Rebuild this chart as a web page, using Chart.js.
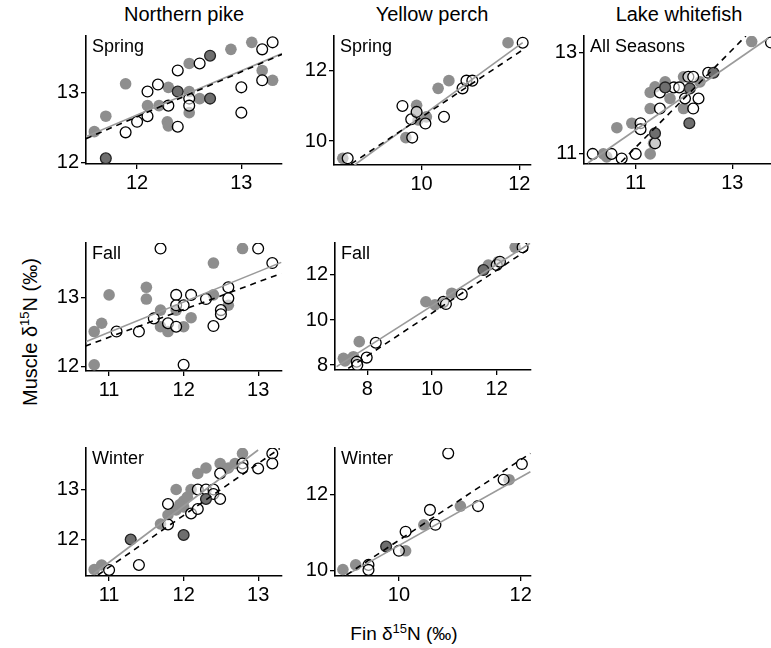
<!DOCTYPE html>
<html><head><meta charset="utf-8">
<script src="https://cdn.jsdelivr.net/npm/chart.js@4/dist/chart.umd.min.js"></script>
<style>
html,body{margin:0;padding:0;background:#fff;overflow:hidden;width:771px;height:648px;position:relative;}
canvas{position:absolute;}
.t{position:absolute;font-family:"Liberation Sans",Arial,sans-serif;color:#000;white-space:nowrap;}
</style></head><body>
<div class="t" style="left:184px;top:14px;transform:translate(-50%,-50%);font-size:20px;">Northern pike</div>
<div class="t" style="left:432px;top:14px;transform:translate(-50%,-50%);font-size:20px;">Yellow perch</div>
<div class="t" style="left:679px;top:14px;transform:translate(-50%,-50%);font-size:20px;">Lake whitefish</div>
<div class="t" style="left:30px;top:332px;transform:translate(-50%,-50%) rotate(-90deg);font-size:20px;">Muscle δ<sup style="font-size:13px;vertical-align:8px;line-height:0">15</sup>N (‰)</div>
<div class="t" style="left:404px;top:634px;transform:translate(-50%,-50%);font-size:19px;">Fin δ<sup style="font-size:13px;vertical-align:7px;line-height:0">15</sup>N (‰)</div>
<script>
// ---------- data ----------
// Northern pike, Spring
const npSpringGray = [[11.59,12.44],[11.70,12.66],[11.89,13.12],[12.10,12.81],[12.21,12.81],[12.30,13.07],[12.29,12.58],[12.30,12.52],[12.50,13.41],[12.50,13.01],[12.50,12.71],[12.60,12.91],[12.90,13.61],[13.10,13.71],[13.20,13.31],[13.30,13.17]];
const npSpringOpen = [[11.89,12.43],[12.00,12.58],[12.10,12.66],[12.10,13.01],[12.20,13.11],[12.30,12.81],[12.39,13.31],[12.39,12.51],[12.50,12.91],[12.50,12.81],[12.60,13.41],[13.00,13.07],[13.00,12.71],[13.20,13.61],[13.20,13.17],[13.30,13.71]];
const npSpringBoth = [[11.70,12.06],[12.70,13.52],[12.39,13.01],[12.70,12.91]];
const npSpringFitGray = [[11.51,12.37],[13.39,13.55]];
const npSpringFitOpen = [[11.51,12.34],[13.39,13.54]];
// Yellow perch, Spring
const ypSpringGray = [[8.39,9.51],[9.68,10.10],[9.90,11.02],[9.90,10.81],[9.93,10.60],[10.10,10.69],[10.34,11.50],[10.56,11.72],[11.77,12.80]];
const ypSpringOpen = [[8.49,9.51],[9.61,11.00],[9.79,10.62],[9.81,10.10],[9.90,10.83],[10.08,10.50],[10.46,10.69],[10.84,11.50],[10.92,11.72],[11.04,11.72],[12.07,12.80]];
const ypSpringBoth = [];
const ypSpringFitGray = [[8.63,9.32],[12.07,12.80]];
const ypSpringFitOpen = [[8.56,9.35],[12.12,12.64]];
// Lake whitefish, All Seasons
const lwAllGray = [[10.33,10.99],[10.40,10.93],[10.61,11.51],[10.92,11.60],[11.30,10.99],[11.37,11.20],[11.30,11.89],[11.30,12.21],[11.40,12.32],[11.61,12.42],[11.71,12.09],[11.99,12.52],[11.99,11.89],[12.33,12.42],[13.40,13.22]];
const lwAllOpen = [[10.11,10.99],[10.50,10.99],[10.71,10.90],[11.00,10.99],[11.10,11.60],[11.10,11.48],[11.40,11.20],[11.50,12.21],[11.50,11.89],[11.79,12.31],[11.90,12.31],[12.02,12.09],[12.09,12.52],[12.19,12.52],[12.19,11.89],[12.30,12.09],[12.50,12.60],[13.80,13.20]];
const lwAllBoth = [[11.40,11.40],[11.61,12.31],[12.12,12.29],[12.11,11.60],[12.61,12.60]];
const lwAllFitGray = [[10.01,10.81],[13.75,13.29]];
const lwAllFitOpen = [[10.70,10.83],[13.28,13.33]];
// Northern pike, Fall
const npFallGray = [[10.80,12.51],[10.90,12.63],[10.80,12.03],[11.00,13.04],[11.50,13.15],[11.50,12.98],[11.69,12.82],[11.69,12.58],[11.79,12.51],[11.90,12.82],[12.00,12.58],[12.10,12.71],[12.40,13.50],[12.40,13.04],[12.60,12.89],[12.79,13.71]];
const npFallOpen = [[11.10,12.51],[11.40,12.51],[11.60,12.70],[11.69,13.71],[11.79,12.63],[11.90,13.04],[11.90,12.89],[11.90,12.58],[12.00,12.89],[12.00,12.03],[12.10,13.04],[12.30,12.98],[12.40,12.59],[12.50,12.82],[12.50,12.76],[12.60,13.15],[12.60,12.99],[13.00,13.71],[13.19,13.50]];
const npFallBoth = [];
const npFallFitGray = [[10.68,12.36],[13.31,13.51]];
const npFallFitOpen = [[10.68,12.30],[13.31,13.35]];
// Yellow perch, Fall
const ypFallGray = [[7.26,8.30],[7.31,8.18],[7.57,8.37],[7.75,9.04],[9.81,10.81],[10.09,10.67],[10.35,10.77],[10.61,11.19],[11.74,12.44],[12.05,12.59],[12.57,13.23]];
const ypFallOpen = [[7.67,8.15],[7.69,8.00],[7.98,8.33],[8.26,8.99],[10.35,10.81],[10.43,10.71],[10.92,11.14],[12.00,12.44],[12.10,12.59],[12.80,13.23]];
const ypFallBoth = [[11.59,12.22]];
const ypFallFitGray = [[7.05,7.93],[13.03,13.41]];
const ypFallFitOpen = [[7.41,7.85],[13.03,13.19]];
// Northern pike, Winter
const npWinterGray = [[10.80,11.40],[10.90,11.49],[11.69,12.31],[11.79,12.49],[11.90,13.00],[11.90,12.59],[11.95,12.70],[12.00,12.77],[12.00,12.65],[12.05,12.85],[12.10,13.00],[12.19,13.32],[12.30,13.43],[12.49,13.52],[12.60,13.43],[12.69,13.52],[12.79,13.72]];
const npWinterOpen = [[11.00,11.39],[11.40,11.49],[11.79,12.71],[11.79,12.30],[12.10,12.52],[12.19,12.61],[12.19,13.00],[12.30,13.00],[12.40,13.00],[12.40,12.91],[12.49,13.32],[12.49,12.81],[12.79,13.52],[12.79,13.43],[13.00,13.42],[13.19,13.72],[13.19,13.52]];
const npWinterBoth = [[11.29,12.00],[12.00,12.09],[12.30,12.81]];
const npWinterFitGray = [[10.79,11.31],[13.00,13.79]];
const npWinterFitOpen = [[10.85,11.29],[13.29,13.82]];
// Yellow perch, Winter
const ypWinterGray = [[9.08,10.03],[9.29,10.15],[10.11,10.52],[10.41,11.20],[11.01,11.69],[11.81,12.38]];
const ypWinterOpen = [[9.50,10.15],[9.50,10.02],[10.00,10.52],[10.11,11.02],[10.51,11.59],[10.60,11.20],[10.81,13.07],[11.30,11.69],[11.72,12.38],[12.02,12.79]];
const ypWinterBoth = [[9.79,10.63]];
const ypWinterFitGray = [[9.14,9.89],[12.16,12.59]];
const ypWinterFitOpen = [[9.14,9.89],[12.16,13.07]];

// tick labels and axis ranges
const npSpringXTicks = [12,13], npSpringYTicks = [12,13];
const ypSpringXTicks = [10,12], ypSpringYTicks = [10,12];
const lwAllXTicks = [11,13], lwAllYTicks = [11,13];
const npFallXTicks = [11,12,13], npFallYTicks = [12,13];
const ypFallXTicks = [8,10,12], ypFallYTicks = [8,10,12];
const npWinterXTicks = [11,12,13], npWinterYTicks = [12,13];
const ypWinterXTicks = [10,12], ypWinterYTicks = [10,12];

// ---------- layout ----------
const FONT = '"Liberation Sans", Arial, sans-serif';
const panels = [
  {label:'Spring', L:86, T:36, R:282, B:164, x:[11.51,13.39], y:[11.98,13.80], xt:npSpringXTicks, yt:npSpringYTicks, g:npSpringGray, o:npSpringOpen, b:npSpringBoth, fg:npSpringFitGray, fo:npSpringFitOpen},
  {label:'Spring', L:334, T:36, R:531, B:165, x:[8.21,12.24], y:[9.32,12.99], xt:ypSpringXTicks, yt:ypSpringYTicks, g:ypSpringGray, o:ypSpringOpen, b:ypSpringBoth, fg:ypSpringFitGray, fo:ypSpringFitOpen},
  {label:'All Seasons', L:584, T:36, R:771, B:164, x:[9.93,13.80], y:[10.79,13.33], xt:lwAllXTicks, yt:lwAllYTicks, g:lwAllGray, o:lwAllOpen, b:lwAllBoth, fg:lwAllFitGray, fo:lwAllFitOpen},
  {label:'Fall', L:86, T:243, R:282, B:371, x:[10.69,13.32], y:[11.94,13.79], xt:npFallXTicks, yt:npFallYTicks, g:npFallGray, o:npFallOpen, b:npFallBoth, fg:npFallFitGray, fo:npFallFitOpen},
  {label:'Fall', L:335, T:243, R:531, B:370, x:[7.0,13.06], y:[7.78,13.42], xt:ypFallXTicks, yt:ypFallYTicks, g:ypFallGray, o:ypFallOpen, b:ypFallBoth, fg:ypFallFitGray, fo:ypFallFitOpen},
  {label:'Winter', L:86, T:448, R:282, B:576, x:[10.69,13.32], y:[11.27,13.83], xt:npWinterXTicks, yt:npWinterYTicks, g:npWinterGray, o:npWinterOpen, b:npWinterBoth, fg:npWinterFitGray, fo:npWinterFitOpen},
  {label:'Winter', L:335, T:448, R:531, B:576, x:[8.95,12.17], y:[9.86,13.21], xt:ypWinterXTicks, yt:ypWinterYTicks, g:ypWinterGray, o:ypWinterOpen, b:ypWinterBoth, fg:ypWinterFitGray, fo:ypWinterFitOpen}
];

const labelPlugin = {
  id: 'plab',
  beforeDatasetsDraw(chart, args, opts) {
    const ctx = chart.ctx, a = chart.chartArea;
    ctx.save();
    ctx.font = '18px ' + FONT;
    ctx.fillStyle = '#000';
    ctx.textBaseline = 'top';
    ctx.fillText(opts.text, a.left + 6, a.top + 2);
    ctx.restore();
  }
};

const pts = arr => arr.map(p => ({x: p[0], y: p[1]}));

function axis(range, ticks, isX, size) {
  return {
    type: 'linear', min: range[0], max: range[1],
    afterBuildTicks: s => { s.ticks = ticks.map(v => ({value: v})); },
    afterFit: s => {
      if (isX) s.height = size; else s.width = size;
      s.paddingLeft = 0; s.paddingRight = 0; s.paddingTop = 0; s.paddingBottom = 0;
    },
    border: {display: true, color: '#000', width: 1.6},
    grid: {display: true, drawOnChartArea: false, drawTicks: true, tickLength: 5, color: '#000', lineWidth: 1.3},
    ticks: {color: '#000', font: {family: FONT, size: 20}, padding: 2, maxRotation: 0, autoSkip: false}
  };
}

panels.forEach(p => {
  const padT = 12, padR = 16, Wy = 52, Hx = 36;
  const w = (p.R - p.L) + Wy + padR;
  const h = (p.B - p.T) + padT + Hx;
  const c = document.createElement('canvas');
  c.width = w; c.height = h;
  c.style.left = (p.L - Wy) + 'px';
  c.style.top = (p.T - padT) + 'px';
  c.style.width = w + 'px'; c.style.height = h + 'px';
  document.body.appendChild(c);
  new Chart(c, {
    type: 'scatter',
    data: {datasets: [
      {data: pts(p.fo), showLine: true, pointRadius: 0, borderColor: '#000', borderWidth: 1.6, borderDash: [6, 5], fill: false},
      {data: pts(p.fg), showLine: true, pointRadius: 0, borderColor: '#9a9a9a', borderWidth: 1.6, fill: false},
      {data: pts(p.b), pointRadius: 5.4, backgroundColor: '#6e6e6e', borderColor: '#222', borderWidth: 1.3},
      {data: pts(p.o), pointRadius: 5.4, backgroundColor: 'rgba(255,255,255,0.55)', borderColor: '#000', borderWidth: 1.3},
      {data: pts(p.g), pointRadius: 5.8, backgroundColor: '#8e8e8e', borderColor: '#8e8e8e', borderWidth: 0}
    ]},
    options: {
      responsive: false, animation: false, devicePixelRatio: 1,
      layout: {padding: {top: padT, right: padR, left: 0, bottom: 0}},
      plugins: {legend: {display: false}, tooltip: {enabled: false}, plab: {text: p.label}},
      scales: {x: axis(p.x, p.xt, true, Hx), y: axis(p.y, p.yt, false, Wy)}
    },
    plugins: [labelPlugin]
  });
});
</script>
</body></html>
